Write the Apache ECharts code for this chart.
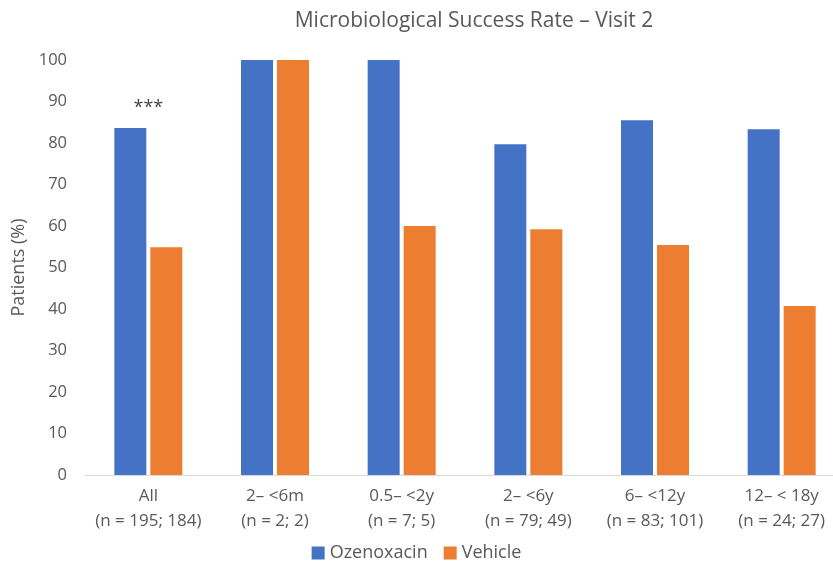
<!DOCTYPE html>
<html>
<head>
<meta charset="utf-8">
<script src="https://cdn.jsdelivr.net/npm/echarts@6/dist/echarts.min.js"></script>
<style>html,body{margin:0;padding:0;background:#fff}#c{width:833px;height:568px}</style>
</head>
<body>
<div id="c"></div>
<script>
const categories = ['All\n(n = 195; 184)', '2– <6m\n(n = 2; 2)', '0.5– <2y\n(n = 7; 5)', '2– <6y\n(n = 79; 49)', '6– <12y\n(n = 83; 101)', '12– < 18y\n(n = 24; 27)'];
const ozenoxacin = [83.6, 100, 100, 79.7, 85.5, 83.3];
const vehicle = [54.9, 100, 60, 59.2, 55.4, 40.7];
const significance = [['All\n(n = 195; 184)', 88.5, '***']];
const yTicks = { min: 0, max: 100, interval: 10 };

const FONT = '"Open Sans", "Noto Sans", sans-serif';
const TXT = '#595959';
const chart = echarts.init(document.getElementById('c'));
chart.setOption({
  animation: false,
  textStyle: { fontFamily: FONT },
  title: {
    text: 'Microbiological Success Rate – Visit 2',
    left: 469, top: 6, textAlign: 'center',
    textStyle: { fontFamily: FONT, fontSize: 21, fontWeight: 'normal', color: TXT }
  },
  grid: { left: 85, width: 760, top: 60, bottom: 93, containLabel: false, outerBoundsMode: 'none' },
  legend: {
    data: ['Ozenoxacin', 'Vehicle'],
    left: 'center', top: 539,
    itemWidth: 13, itemHeight: 13, itemGap: 16, itemTextGap: 5,
    icon: 'rect',
    textStyle: { fontFamily: FONT, fontSize: 18, color: TXT }
  },
  xAxis: {
    type: 'category',
    data: categories,
    axisLine: { lineStyle: { color: '#d9d9d9' } },
    axisTick: { show: false },
    axisLabel: { fontFamily: FONT, fontSize: 17, lineHeight: 25, color: TXT, margin: 9, interval: 0 }
  },
  yAxis: {
    type: 'value',
    min: yTicks.min, max: yTicks.max, interval: yTicks.interval,
    name: 'Patients (%)',
    nameLocation: 'middle', nameGap: 52,
    nameTextStyle: { fontFamily: FONT, fontSize: 18, color: TXT },
    axisLine: { show: false },
    axisTick: { show: false },
    splitLine: { show: false },
    axisLabel: { fontFamily: FONT, fontSize: 16.5, color: TXT, margin: 18 }
  },
  series: [
    { name: 'Ozenoxacin', type: 'bar', data: ozenoxacin, barWidth: 32, barGap: '12.5%',
      itemStyle: { color: '#4472c4' } },
    { name: 'Vehicle', type: 'bar', data: vehicle, barWidth: 32,
      itemStyle: { color: '#ed7d31' } },
    { name: 'sig', type: 'scatter', data: significance.map(d => [d[0], d[1]]), symbolSize: 0,
      label: { show: true, position: 'inside', formatter: (p) => significance[p.dataIndex][2],
        fontFamily: FONT, fontSize: 18, color: '#111' } }
  ]
});
</script>
</body>
</html>
